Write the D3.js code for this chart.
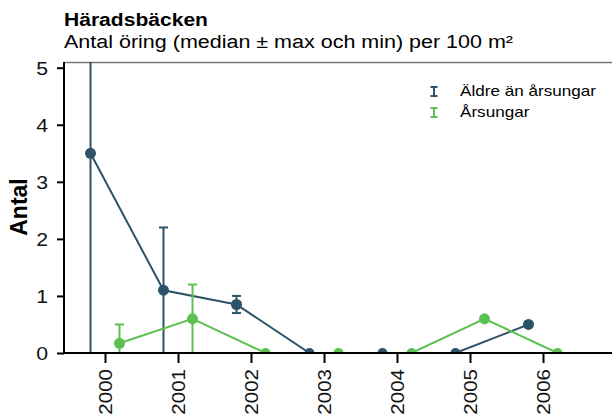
<!DOCTYPE html>
<meta charset="UTF-8">
<head>
    <title>Häradsbäcken</title>
    <style>
        body { margin: 0; background: #fff; }
        text { font-family: "Liberation Sans", Arial, sans-serif; }
    </style>
</head>
<body>
<svg width="612" height="414"></svg>
<script src="https://d3js.org/d3.v7.min.js"></script>
<script>

// Data.
var years = ["2000", "2001", "2002", "2003", "2004", "2005", "2006"];
var seriesNames = ["Äldre än årsungar", "Årsungar"];
var aldreMedian = [3.5, 1.1, 0.85, 0, 0, 0, 0.5];
var aldreMin    = [0,   0,   0.7,  0, 0, 0, 0.5];
var aldreMax    = [7,   2.2, 1.0,  0, 0, 0, 0.5];
var arsMedian   = [0.17, 0.6, 0, 0, 0, 0.6, 0];
var arsMin      = [0,    0,   0, 0, 0, 0.6, 0];
var arsMax      = [0.5,  1.2, 0, 0, 0, 0.6, 0];
var yTicks = [0, 1, 2, 3, 4, 5];
var colors = ["#2c5368", "#5dc152"];

var svg = d3.select("svg");
var plotL = 64, plotR = 612, plotT = 62, plotB = 353;

// the reference font is a bit wider than Liberation Sans
function widen(sel, k) {
    sel.each(function() {
        var w = this.getComputedTextLength();
        d3.select(this).attr("textLength", w * k).attr("lengthAdjust", "spacingAndGlyphs");
    });
}

var x = d3.scalePoint()
    .domain(years)
    .range([105, 543]);

var dodge = d3.scalePoint()
    .domain(seriesNames)
    .range([-14.5, 14.5]);

var y = d3.scaleLinear()
    .domain([0, 5.1])
    .range([plotB, plotT]);

// Title and subtitle.
svg.append("text")
    .attr("x", 64).attr("y", 26)
    .attr("font-size", 18).attr("font-weight", "bold")
    .attr("textLength", 144).attr("lengthAdjust", "spacingAndGlyphs")
    .text("Häradsbäcken");
svg.append("text")
    .attr("x", 64).attr("y", 48)
    .attr("font-size", 18)
    .attr("textLength", 449).attr("lengthAdjust", "spacingAndGlyphs")
    .text("Antal öring (median ± max och min) per 100 m²");

// Top border.
svg.append("line")
    .attr("x1", plotL).attr("x2", plotR)
    .attr("y1", plotT + 0.5).attr("y2", plotT + 0.5)
    .attr("stroke", "#777").attr("stroke-width", 1.5);

svg.append("clipPath").attr("id", "plot")
    .append("rect")
    .attr("x", plotL).attr("y", plotT)
    .attr("width", plotR - plotL).attr("height", plotB - plotT);

var series = [
    { name: seriesNames[0], med: aldreMedian, lo: aldreMin, hi: aldreMax, color: colors[0] },
    { name: seriesNames[1], med: arsMedian, lo: arsMin, hi: arsMax, color: colors[1] }
];

var plot = svg.append("g").attr("clip-path", "url(#plot)");

series.forEach(function(s) {
    var pts = years.map(function(yr, i) {
        return { x: x(yr) + dodge(s.name), med: s.med[i], lo: s.lo[i], hi: s.hi[i] };
    });
    var g = plot.append("g");

    // error bars
    var eb = g.selectAll(".eb").data(pts.filter(function(d) { return d.hi > d.lo; }))
        .enter().append("g");
    eb.append("line")
        .attr("x1", function(d) { return d.x; }).attr("x2", function(d) { return d.x; })
        .attr("y1", function(d) { return y(d.lo); }).attr("y2", function(d) { return y(d.hi); })
        .attr("stroke", s.color).attr("stroke-width", 2);
    eb.append("line")
        .attr("x1", function(d) { return d.x - 4.5; }).attr("x2", function(d) { return d.x + 4.5; })
        .attr("y1", function(d) { return y(d.hi); }).attr("y2", function(d) { return y(d.hi); })
        .attr("stroke", s.color).attr("stroke-width", 2);
    eb.append("line")
        .attr("x1", function(d) { return d.x - 4.5; }).attr("x2", function(d) { return d.x + 4.5; })
        .attr("y1", function(d) { return y(d.lo); }).attr("y2", function(d) { return y(d.lo); })
        .attr("stroke", s.color).attr("stroke-width", 2);

    g.append("path")
        .datum(pts)
        .attr("fill", "none")
        .attr("stroke", s.color)
        .attr("stroke-width", 2)
        .attr("d", d3.line().x(function(d) { return d.x; }).y(function(d) { return y(d.med); }));

    g.selectAll("circle").data(pts).enter().append("circle")
        .attr("cx", function(d) { return d.x; })
        .attr("cy", function(d) { return y(d.med); })
        .attr("r", function(d) { return d.med > 0 ? 5.5 : 5; })
        .attr("fill", s.color);
});

// Y axis
var yAxis = svg.append("g")
    .attr("transform", "translate(" + plotL + ",0)")
    .call(d3.axisLeft(y).tickValues(yTicks).tickSize(7).tickPadding(9).tickFormat(d3.format("d")));
yAxis.select(".domain").attr("d", "M0," + plotT + "V" + plotB).attr("stroke-width", 2);
yAxis.selectAll(".tick line").attr("stroke-width", 2);
yAxis.selectAll("text").attr("font-size", 18).attr("fill", "#111").attr("dy", "0.38em")
    .style("font-family", "'Liberation Sans', Arial, sans-serif")
    .call(widen, 1.18);

// X axis
var xAxis = svg.append("g")
    .attr("transform", "translate(0," + plotB + ")")
    .call(d3.axisBottom(x).tickSize(10).tickPadding(4));
xAxis.select(".domain").attr("d", "M" + plotL + ",0H" + plotR).attr("stroke-width", 2);
xAxis.selectAll(".tick line").attr("stroke-width", 2);
xAxis.selectAll("text")
    .attr("font-size", 18).attr("fill", "#111")
    .style("font-family", "'Liberation Sans', Arial, sans-serif")
    .attr("text-anchor", "end")
    .attr("dy", "0.36em")
    .attr("transform", "translate(0,16) rotate(-90)")
    .attr("x", 0).attr("y", 0)
    .call(widen, 1.14);

// Y axis title
svg.append("text")
    .attr("transform", "translate(27,207) rotate(-90)")
    .attr("text-anchor", "middle")
    .attr("font-size", 23).attr("font-weight", "bold")
    .text("Antal");

// Legend
var legend = svg.append("g").selectAll("g").data(series).enter().append("g")
    .attr("transform", function(d, i) { return "translate(434," + (96 + i * 21) + ")"; });
legend.append("path")
    .attr("d", "M-3.5,-9H3.5M0,-9V0M-3.5,0H3.5")
    .attr("fill", "none")
    .attr("stroke", function(d) { return d.color; })
    .attr("stroke-width", 2);
legend.append("text")
    .attr("x", 26).attr("y", 0)
    .attr("font-size", 15)
    .text(function(d) { return d.name; })
    .call(widen, 1.14);

</script>
</body>
